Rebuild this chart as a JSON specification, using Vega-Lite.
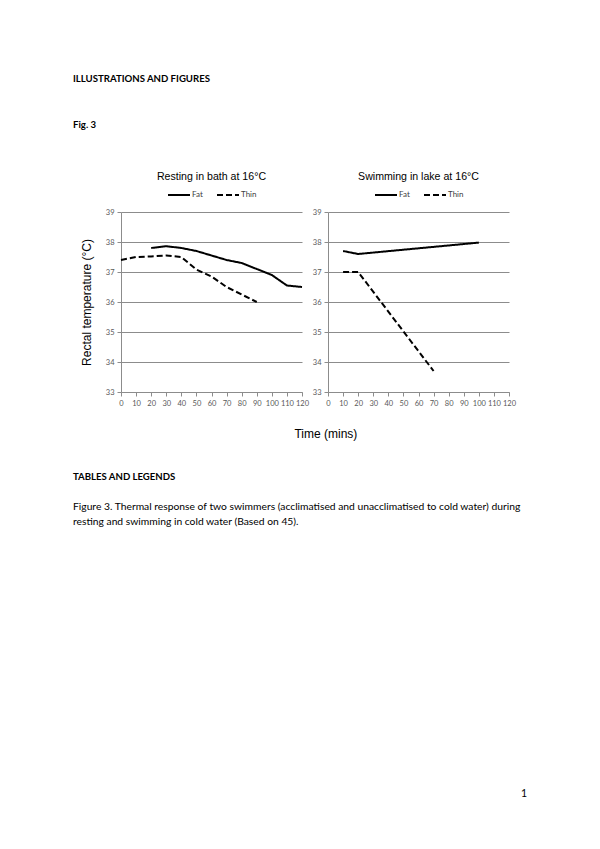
{
  "$schema": "https://vega.github.io/schema/vega-lite/v6.json",
  "background": "white",
  "padding": {"left": 73, "top": 74, "right": 5, "bottom": 5},
  "title": {
    "text": "ILLUSTRATIONS AND FIGURES",
    "subtitle": "Fig. 3",
    "anchor": "start",
    "font": "Lato",
    "fontSize": 9.6,
    "fontWeight": "bold",
    "color": "#000000",
    "subtitleFont": "Lato",
    "subtitleFontSize": 9.6,
    "subtitleFontWeight": "bold",
    "subtitleColor": "#000000",
    "subtitlePadding": 36,
    "offset": 43
  },
  "datasets": {
    "temps": [
      {"panel": "Resting", "group": "Fat", "time": 20, "temp": 37.8},
      {"panel": "Resting", "group": "Fat", "time": 30, "temp": 37.86},
      {"panel": "Resting", "group": "Fat", "time": 40, "temp": 37.8},
      {"panel": "Resting", "group": "Fat", "time": 50, "temp": 37.7},
      {"panel": "Resting", "group": "Fat", "time": 60, "temp": 37.55},
      {"panel": "Resting", "group": "Fat", "time": 70, "temp": 37.4},
      {"panel": "Resting", "group": "Fat", "time": 80, "temp": 37.3},
      {"panel": "Resting", "group": "Fat", "time": 90, "temp": 37.1},
      {"panel": "Resting", "group": "Fat", "time": 100, "temp": 36.9},
      {"panel": "Resting", "group": "Fat", "time": 110, "temp": 36.55},
      {"panel": "Resting", "group": "Fat", "time": 120, "temp": 36.5},
      {"panel": "Resting", "group": "Thin", "time": 0, "temp": 37.4},
      {"panel": "Resting", "group": "Thin", "time": 10, "temp": 37.5},
      {"panel": "Resting", "group": "Thin", "time": 20, "temp": 37.52},
      {"panel": "Resting", "group": "Thin", "time": 30, "temp": 37.55},
      {"panel": "Resting", "group": "Thin", "time": 40, "temp": 37.5},
      {"panel": "Resting", "group": "Thin", "time": 50, "temp": 37.08},
      {"panel": "Resting", "group": "Thin", "time": 60, "temp": 36.85},
      {"panel": "Resting", "group": "Thin", "time": 70, "temp": 36.5},
      {"panel": "Resting", "group": "Thin", "time": 80, "temp": 36.25},
      {"panel": "Resting", "group": "Thin", "time": 90, "temp": 36.0},
      {"panel": "Swimming", "group": "Fat", "time": 10, "temp": 37.7},
      {"panel": "Swimming", "group": "Fat", "time": 20, "temp": 37.6},
      {"panel": "Swimming", "group": "Fat", "time": 100, "temp": 37.98},
      {"panel": "Swimming", "group": "Thin", "time": 10, "temp": 37.0},
      {"panel": "Swimming", "group": "Thin", "time": 20, "temp": 37.0},
      {"panel": "Swimming", "group": "Thin", "time": 70, "temp": 33.7}
    ]
  },
  "vconcat": [
    {
      "title": {
        "text": "Time (mins)",
        "orient": "bottom",
        "anchor": "middle",
        "dx": 28,
        "font": "Liberation Sans",
        "fontSize": 12,
        "fontWeight": "normal",
        "color": "#000000",
        "offset": 22
      },
      "spacing": 3,
      "resolve": {
        "scale": {"strokeDash": "independent", "x": "independent", "y": "independent"},
        "legend": {"strokeDash": "independent"}
      },
      "hconcat": [
        {
          "title": {"text": "Resting in bath at 16°C", "font": "Liberation Sans", "fontSize": 10.6, "fontWeight": "normal", "color": "#000000", "offset": 0},
          "width": 181,
          "height": 180,
          "data": {"name": "temps"},
          "transform": [{"filter": "datum.panel === 'Resting'"}],
          "mark": {"type": "line", "color": "black", "strokeWidth": 2},
          "encoding": {
            "x": {
              "field": "time", "type": "quantitative",
              "scale": {"domain": [0, 120], "nice": false},
              "axis": {"values": [0, 10, 20, 30, 40, 50, 60, 70, 80, 90, 100, 110, 120], "title": null}
            },
            "y": {
              "field": "temp", "type": "quantitative",
              "scale": {"domain": [33, 39], "nice": false, "zero": false},
              "axis": {"values": [33, 34, 35, 36, 37, 38, 39], "title": "Rectal temperature (°C)", "titlePadding": 12}
            },
            "strokeDash": {
              "field": "group", "type": "nominal",
              "scale": {"domain": ["Fat", "Thin"], "range": [[1, 0], [6, 3]]},
              "legend": {"orient": "top", "direction": "horizontal", "title": null}
            }
          }
        },
        {
          "title": {"text": "Swimming in lake at 16°C", "font": "Liberation Sans", "fontSize": 10.6, "fontWeight": "normal", "color": "#000000", "offset": 0},
          "width": 181,
          "height": 180,
          "data": {"name": "temps"},
          "transform": [{"filter": "datum.panel === 'Swimming'"}],
          "mark": {"type": "line", "color": "black", "strokeWidth": 2},
          "encoding": {
            "x": {
              "field": "time", "type": "quantitative",
              "scale": {"domain": [0, 120], "nice": false},
              "axis": {"values": [0, 10, 20, 30, 40, 50, 60, 70, 80, 90, 100, 110, 120], "title": null}
            },
            "y": {
              "field": "temp", "type": "quantitative",
              "scale": {"domain": [33, 39], "nice": false, "zero": false},
              "axis": {"values": [33, 34, 35, 36, 37, 38, 39], "title": null}
            },
            "strokeDash": {
              "field": "group", "type": "nominal",
              "scale": {"domain": ["Fat", "Thin"], "range": [[1, 0], [6, 3]]},
              "legend": {"orient": "top", "direction": "horizontal", "title": null}
            }
          }
        }
      ]
    },
    {
      "width": 406,
      "height": 272,
      "title": {
        "text": "TABLES AND LEGENDS",
        "subtitle": [
          "Figure 3. Thermal response of two swimmers (acclimatised and unacclimatised to cold water) during",
          "resting and swimming in cold water (Based on 45)."
        ],
        "anchor": "start",
        "dx": -48,
        "font": "Lato",
        "fontSize": 9.6,
        "fontWeight": "bold",
        "color": "#000000",
        "subtitleFont": "Lato",
        "subtitleFontSize": 10.3,
        "subtitleColor": "#000000",
        "subtitlePadding": 20,
        "subtitleLineHeight": 15,
        "offset": 0
      },
      "data": {"values": [{"page": "1"}]},
      "mark": {"type": "text", "align": "right", "baseline": "bottom", "font": "Lato", "fontSize": 10.5, "color": "#000000"},
      "encoding": {
        "text": {"field": "page", "type": "nominal"},
        "x": {"datum": 1, "type": "quantitative", "scale": {"domain": [0, 1]}, "axis": null},
        "y": {"datum": 0, "type": "quantitative", "scale": {"domain": [0, 1]}, "axis": null}
      }
    }
  ],
  "spacing": 32,
  "config": {
    "view": {"stroke": null},
    "axis": {
      "labelFont": "Lato",
      "labelFontSize": 7.5,
      "labelColor": "#595959",
      "domainColor": "#8c8c8c",
      "tickColor": "#8c8c8c",
      "gridColor": "#8c8c8c",
      "gridOpacity": 1,
      "tickSize": 4,
      "labelPadding": 3,
      "titleFont": "Liberation Sans",
      "titleFontSize": 12,
      "titleFontWeight": "normal",
      "titleColor": "#000000"
    },
    "axisX": {"grid": false, "labelOverlap": false, "labelFlush": false},
    "axisY": {"grid": true},
    "legend": {
      "labelFont": "Lato",
      "labelFontSize": 8,
      "labelColor": "#404040",
      "symbolType": "stroke",
      "symbolStrokeColor": "black",
      "symbolStrokeWidth": 2,
      "symbolSize": 484,
      "columnPadding": 10,
      "labelOffset": 1,
      "offset": 13,
      "layout": {"top": {"anchor": "middle"}}
    }
  }
}
